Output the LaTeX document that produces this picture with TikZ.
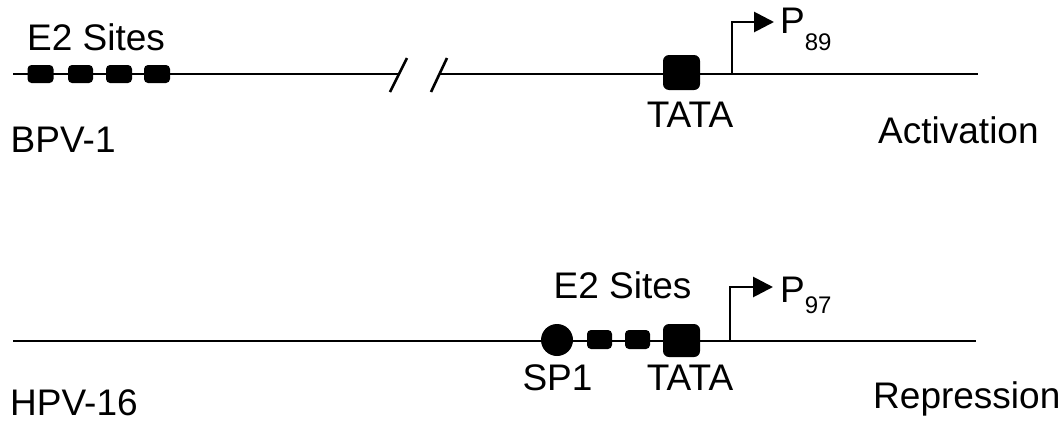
\documentclass[tikz,border=0pt]{standalone}
\usepackage{fontspec}
\setmainfont{Liberation Sans}
\usetikzlibrary{arrows.meta}
\begin{document}
\begin{tikzpicture}[x=1pt,y=-1pt,
  dna/.style={line width=2.2pt},
  site/.style={fill=black, rounded corners=4pt, minimum width=25pt, minimum height=18pt, inner sep=0pt},
  tatabox/.style={fill=black, rounded corners=6pt, minimum width=37pt, minimum height=34pt, inner sep=0pt},
  sp/.style={fill=black, circle, minimum size=32pt, inner sep=0pt},
  lbl/.style={font=\fontsize{37}{42}\selectfont, inner sep=0pt},
  prom/.style={line width=2.8pt, -{Triangle[length=20pt,width=20pt]}},
  brk/.style={line width=2.6pt}]
\useasboundingbox (0,0) rectangle (1064,421);
% BPV-1
\coordinate (a0) at (13,74);
\coordinate (a1) at (399,74);
\coordinate (a2) at (439,74);
\coordinate (a3) at (978,74);
\draw[dna] (a0) -- (a1);
\draw[dna] (a2) -- (a3);
\coordinate (s1a) at (390,92); \coordinate (s1b) at (407,58);
\coordinate (s2a) at (431,92); \coordinate (s2b) at (447,58);
\draw[brk] (s1a) -- (s1b);
\draw[brk] (s2a) -- (s2b);
\node[site, minimum width=26pt] (e1) at (40.5,74) {};
\node[site] (e2) at (80.5,74) {};
\node[site, minimum width=26pt] (e3) at (119,74) {};
\node[site, minimum width=26pt] (e4) at (157,74) {};
\node[tatabox, minimum height=35pt] (t1) at (681.5,72.5) {};
\coordinate (p1a) at (732,74);
\coordinate (p1b) at (732,22);
\coordinate (p1c) at (774,22);
\draw[prom] (p1a) -- (p1b) -- (p1c);
\node[lbl, anchor=base west] (e2lab1) at (27,50) {E2 Sites};
\node[lbl, anchor=base west] (bpv) at (10.5,152) {BPV-1};
\node[lbl, anchor=base] (tl1) at (690,127) {TATA};
\node[lbl, anchor=base west] (act) at (878,143) {Activation};
\node[lbl, anchor=base west] (p89) at (780,33) {P\raisebox{-17pt}{\fontsize{24}{26}\selectfont 89}};
% HPV-16
\coordinate (b0) at (13,341);
\coordinate (b1) at (976,341);
\draw[dna] (b0) -- (b1);
\node[sp] (sp1) at (557,340) {};
\node[site, minimum height=19pt] (f1) at (599.5,339.5) {};
\node[site, minimum height=19pt] (f2) at (637.5,339.5) {};
\node[tatabox, minimum height=33pt] (t2) at (681.5,340.5) {};
\coordinate (p2a) at (730,341);
\coordinate (p2b) at (730,287);
\coordinate (p2c) at (773,287);
\draw[prom] (p2a) -- (p2b) -- (p2c);
\node[lbl, anchor=base] (e2lab2) at (622.5,298) {E2 Sites};
\node[lbl, anchor=base] (splab) at (557.5,390) {SP1};
\node[lbl, anchor=base] (tl2) at (690,390) {TATA};
\node[lbl, anchor=base west] (hpv) at (10,415) {HPV-16};
\node[lbl, anchor=base west] (rep) at (873,408) {Repression};
\node[lbl, anchor=base west] (p97) at (780,302) {P\raisebox{-11pt}{\fontsize{24}{26}\selectfont 97}};
\end{tikzpicture}
\end{document}
